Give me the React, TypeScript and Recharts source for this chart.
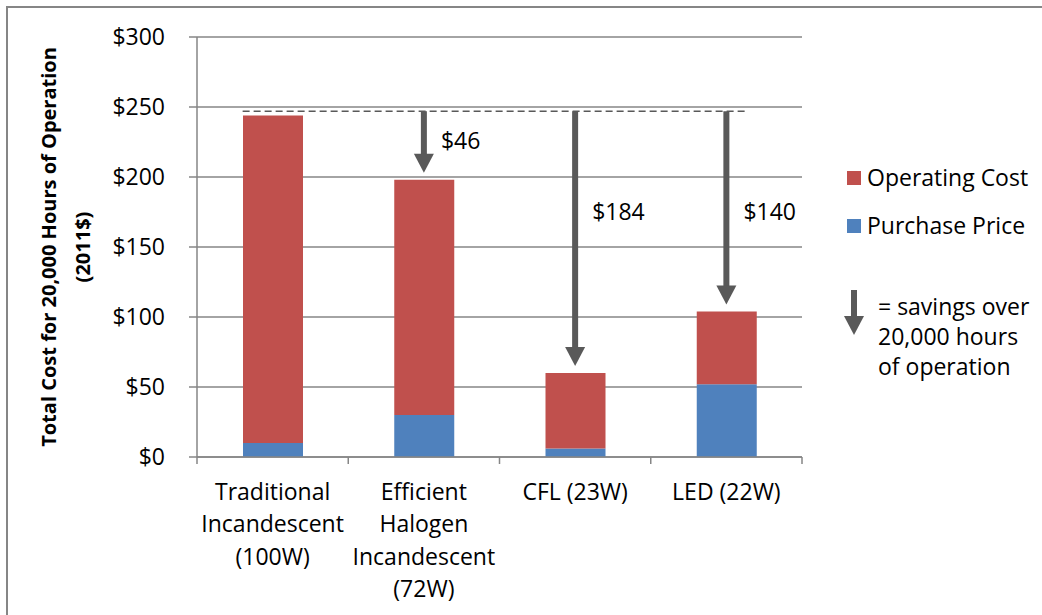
import React from "react";
import { Bar, BarChart, CartesianGrid, ReferenceLine, XAxis, YAxis } from "recharts";

const categories = [
  "Traditional Incandescent (100W)",
  "Efficient Halogen Incandescent (72W)",
  "CFL (23W)",
  "LED (22W)",
];
const tickLines = [
  ["Traditional", "Incandescent", "(100W)"],
  ["Efficient", "Halogen", "Incandescent", "(72W)"],
  ["CFL (23W)"],
  ["LED (22W)"],
];
const purchasePrice = [10, 30, 6, 52];
const operatingCost = [234, 168, 54, 52];
const yTicks = [0, 50, 100, 150, 200, 250, 300];

// dashed reference level the savings arrows start from
const referenceLevel = 247;
const savingsCategories = [1, 2, 3];
const savingsLabels = ["$46", "$184", "$140"];

const RED = "#C0504D";
const BLUE = "#4F81BD";
const GRID = "#868686";
const ARROW = "#595959";
const FONT = "'Open Sans', sans-serif";
const FS = 23;

const data = categories.map((name, i) => ({
  name,
  purchase: purchasePrice[i],
  operating: operatingCost[i],
  total: purchasePrice[i] + operatingCost[i],
}));

function CategoryTick(props: any) {
  const { x, y, payload, index, visibleTicksCount } = props;
  const half = payload?.offset || 75.6;
  const lines = tickLines[categories.indexOf(payload.value)] || [payload.value];
  return (
    <g>
      <line x1={x - half} x2={x - half} y1={y} y2={y + 7} stroke={GRID} strokeWidth={1.5} />
      {index === visibleTicksCount - 1 && (
        <line x1={x + half} x2={x + half} y1={y} y2={y + 7} stroke={GRID} strokeWidth={1.5} />
      )}
      <text textAnchor="middle" fontSize={FS} fill="#000" fontFamily={FONT}>
        {lines.map((l, i) => (
          <tspan key={i} x={x} y={y + 43 + i * 32.4}>
            {l}
          </tspan>
        ))}
      </text>
    </g>
  );
}

function DashedLevel(props: any) {
  const { x1, x2, y1 } = props;
  return (
    <line
      x1={x1 - 30}
      x2={x2 + 21}
      y1={y1}
      y2={y1}
      stroke={ARROW}
      strokeWidth={1.5}
      strokeDasharray="7 4"
    />
  );
}

function savingsArrow(label: string) {
  return (props: any) => {
    const { x1, y1, y2 } = props;
    const tip = y2 - 7;
    const headTop = tip - 19;
    const len = tip - y1;
    // short arrows get the label halfway, long ones a fixed distance below the dashed line
    const labelY = len < 120 ? y1 + len / 2 - 2 : y1 + 100;
    return (
      <g>
        <line x1={x1} x2={x1} y1={y1} y2={headTop + 1} stroke={ARROW} strokeWidth={6} />
        <polygon points={`${x1 - 10},${headTop} ${x1 + 10},${headTop} ${x1},${tip}`} fill={ARROW} />
        <text
          x={x1 + 17}
          y={labelY}
          dominantBaseline="central"
          fontSize={FS}
          fontFamily={FONT}
          fill="#000"
        >
          {label}
        </text>
      </g>
    );
  };
}

function YTitle(props: any) {
  const vb = props.viewBox || { x: 0, y: 37, width: 197, height: 420 };
  const cy = vb.y + vb.height / 2;
  const rows = [
    { text: "Total Cost for 20,000 Hours of Operation", x: 48 },
    { text: "(2011$)", x: 82 },
  ];
  return (
    <g>
      {rows.map((r) => (
        <text
          key={r.text}
          x={r.x}
          y={cy}
          transform={`rotate(-90, ${r.x}, ${cy})`}
          textAnchor="middle"
          dominantBaseline="central"
          fontSize={20}
          fontWeight="bold"
          fontFamily={FONT}
          fill="#000"
        >
          {r.text}
        </text>
      ))}
    </g>
  );
}

const legendText: React.CSSProperties = {
  position: "absolute",
  fontSize: FS,
  lineHeight: "30px",
  color: "#000",
  whiteSpace: "nowrap",
};

export default function App() {
  return (
    <div
      style={{
        position: "absolute",
        left: 0,
        top: 0,
        width: 1042,
        height: 615,
        overflow: "hidden",
        background: "#fff",
        fontFamily: FONT,
      }}
    >
      <div
        style={{
          position: "absolute",
          left: 6,
          top: 6,
          width: 1100,
          height: 700,
          borderLeft: `2px solid ${GRID}`,
          borderTop: `2px solid ${GRID}`,
          boxSizing: "border-box",
        }}
      />
      <BarChart
        width={1042}
        height={615}
        data={data}
        margin={{ top: 37, right: 240, bottom: 0, left: 0 }}
        style={{ position: "absolute", left: 0, top: 0 }}
      >
        <CartesianGrid vertical={false} stroke={GRID} strokeWidth={1.5} />
        <XAxis
          dataKey="name"
          height={158}
          tickSize={0}
          tickMargin={0}
          axisLine={{ stroke: GRID, strokeWidth: 1.5 }}
          tickLine={false}
          interval={0}
          tick={<CategoryTick />}
        />
        <YAxis
          width={197}
          domain={[0, 300]}
          ticks={yTicks}
          interval={0}
          tickFormatter={(v) => `$${v}`}
          tickSize={8}
          tickMargin={24}
          tickLine={{ stroke: GRID, strokeWidth: 1.5 }}
          axisLine={{ stroke: GRID, strokeWidth: 1.5 }}
          tick={{ fontSize: FS, fill: "#000", fontFamily: FONT }}
          label={{ content: (p: any) => <YTitle {...p} /> }}
        />
        <Bar dataKey="purchase" stackId="a" fill={BLUE} barSize={60} isAnimationActive={false} />
        <Bar dataKey="operating" stackId="a" fill={RED} barSize={60} isAnimationActive={false} />
        <ReferenceLine
          segment={[
            { x: categories[0], y: referenceLevel },
            { x: categories[3], y: referenceLevel },
          ]}
          shape={(p: any) => <DashedLevel {...p} />}
        />
        {savingsCategories.map((ci, i) => (
          <ReferenceLine
            key={ci}
            segment={[
              { x: categories[ci], y: referenceLevel },
              { x: categories[ci], y: data[ci].total },
            ]}
            shape={savingsArrow(savingsLabels[i])}
          />
        ))}
      </BarChart>

      <div style={{ position: "absolute", left: 847, top: 171, width: 14, height: 14, background: RED }} />
      <div style={{ ...legendText, left: 867, top: 162 }}>Operating Cost</div>
      <div style={{ position: "absolute", left: 847, top: 219, width: 14, height: 14, background: BLUE }} />
      <div style={{ ...legendText, left: 867, top: 210 }}>Purchase Price</div>

      <svg style={{ position: "absolute", left: 844, top: 290 }} width={22} height={48}>
        <line x1={10} x2={10} y1={0} y2={27} stroke={ARROW} strokeWidth={6} />
        <polygon points="0,26 20,26 10,45" fill={ARROW} />
      </svg>
      <div style={{ ...legendText, left: 878, top: 291 }}>
        = savings over
        <br />
        20,000 hours
        <br />
        of operation
      </div>
    </div>
  );
}
